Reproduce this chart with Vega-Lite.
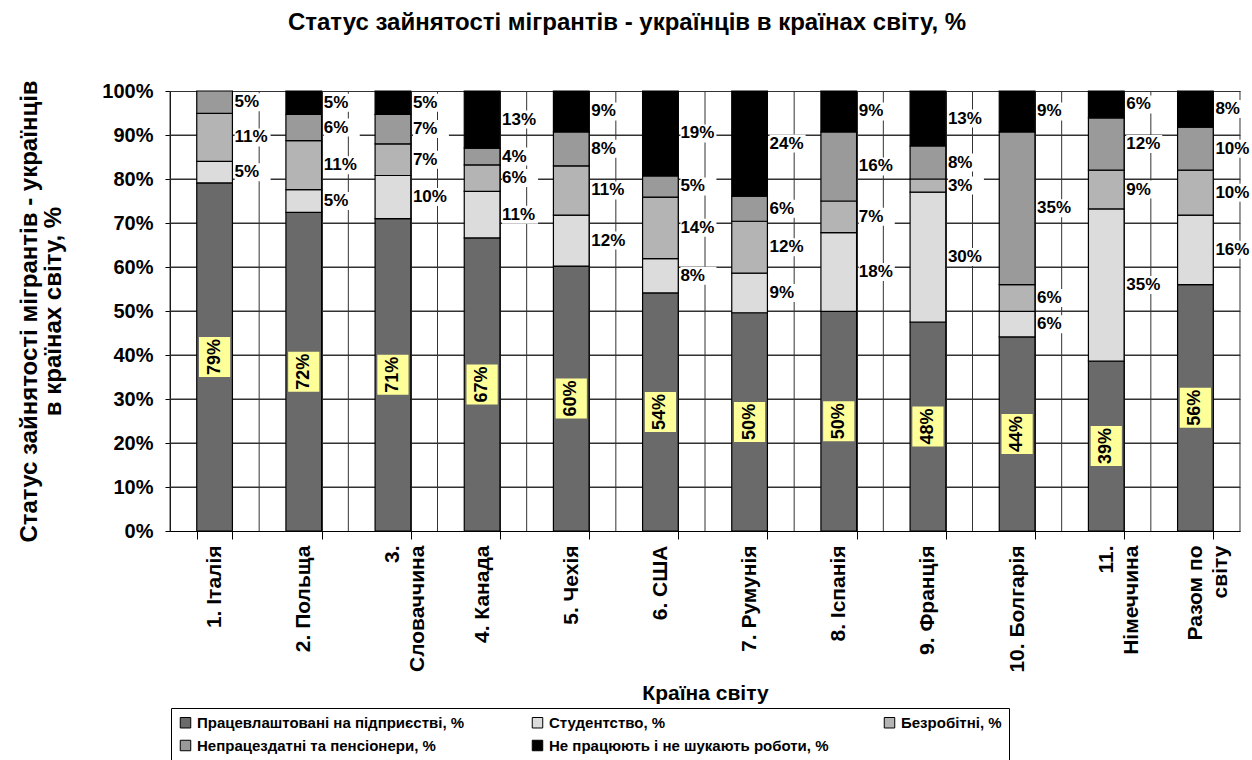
{
  "$schema": "https://vega.github.io/schema/vega-lite/v6.json",
  "autosize": {"type": "pad"},
  "width": 1070,
  "height": 440,
  "padding": {"left": 16, "top": 10, "right": 0, "bottom": 0},
  "background": "white",
  "config": {
    "font": "Liberation Sans",
    "view": {"stroke": null}
  },
  "title": {
    "text": "Статус зайнятості мігрантів - українців в країнах світу, %",
    "fontSize": 24,
    "fontWeight": "bold",
    "color": "black",
    "anchor": "middle",
    "dx": -78,
    "offset": 45
  },
  "data": {
    "values": [
      {"country": "1. Італія", "status": "Працевлаштовані на підприєстві, %", "value": 79.1},
      {"country": "1. Італія", "status": "Студентство, %", "value": 4.9},
      {"country": "1. Італія", "status": "Безробітні, %", "value": 10.9},
      {"country": "1. Італія", "status": "Непрацездатні та пенсіонери, %", "value": 5.1},
      {"country": "2. Польща", "status": "Працевлаштовані на підприєстві, %", "value": 72.4},
      {"country": "2. Польща", "status": "Студентство, %", "value": 5.2},
      {"country": "2. Польща", "status": "Безробітні, %", "value": 11.1},
      {"country": "2. Польща", "status": "Непрацездатні та пенсіонери, %", "value": 6.0},
      {"country": "2. Польща", "status": "Не працюють і не шукають роботи, %", "value": 5.3},
      {"country": "3. Словаччина", "status": "Працевлаштовані на підприєстві, %", "value": 71.0},
      {"country": "3. Словаччина", "status": "Студентство, %", "value": 9.8},
      {"country": "3. Словаччина", "status": "Безробітні, %", "value": 7.2},
      {"country": "3. Словаччина", "status": "Непрацездатні та пенсіонери, %", "value": 6.7},
      {"country": "3. Словаччина", "status": "Не працюють і не шукають роботи, %", "value": 5.3},
      {"country": "4. Канада", "status": "Працевлаштовані на підприєстві, %", "value": 66.6},
      {"country": "4. Канада", "status": "Студентство, %", "value": 10.6},
      {"country": "4. Канада", "status": "Безробітні, %", "value": 6.0},
      {"country": "4. Канада", "status": "Непрацездатні та пенсіонери, %", "value": 3.8},
      {"country": "4. Канада", "status": "Не працюють і не шукають роботи, %", "value": 13.0},
      {"country": "5. Чехія", "status": "Працевлаштовані на підприєстві, %", "value": 60.2},
      {"country": "5. Чехія", "status": "Студентство, %", "value": 11.6},
      {"country": "5. Чехія", "status": "Безробітні, %", "value": 11.2},
      {"country": "5. Чехія", "status": "Непрацездатні та пенсіонери, %", "value": 7.7},
      {"country": "5. Чехія", "status": "Не працюють і не шукають роботи, %", "value": 9.3},
      {"country": "6. США", "status": "Працевлаштовані на підприєстві, %", "value": 54.1},
      {"country": "6. США", "status": "Студентство, %", "value": 7.8},
      {"country": "6. США", "status": "Безробітні, %", "value": 14.0},
      {"country": "6. США", "status": "Непрацездатні та пенсіонери, %", "value": 4.8},
      {"country": "6. США", "status": "Не працюють і не шукають роботи, %", "value": 19.3},
      {"country": "7. Румунія", "status": "Працевлаштовані на підприєстві, %", "value": 49.6},
      {"country": "7. Румунія", "status": "Студентство, %", "value": 9.0},
      {"country": "7. Румунія", "status": "Безробітні, %", "value": 11.8},
      {"country": "7. Румунія", "status": "Непрацездатні та пенсіонери, %", "value": 5.7},
      {"country": "7. Румунія", "status": "Не працюють і не шукають роботи, %", "value": 23.9},
      {"country": "8. Іспанія", "status": "Працевлаштовані на підприєстві, %", "value": 49.9},
      {"country": "8. Іспанія", "status": "Студентство, %", "value": 17.9},
      {"country": "8. Іспанія", "status": "Безробітні, %", "value": 7.2},
      {"country": "8. Іспанія", "status": "Непрацездатні та пенсіонери, %", "value": 15.7},
      {"country": "8. Іспанія", "status": "Не працюють і не шукають роботи, %", "value": 9.3},
      {"country": "9. Франція", "status": "Працевлаштовані на підприєстві, %", "value": 47.5},
      {"country": "9. Франція", "status": "Студентство, %", "value": 29.5},
      {"country": "9. Франція", "status": "Безробітні, %", "value": 3.0},
      {"country": "9. Франція", "status": "Непрацездатні та пенсіонери, %", "value": 7.5},
      {"country": "9. Франція", "status": "Не працюють і не шукають роботи, %", "value": 12.5},
      {"country": "10. Болгарія", "status": "Працевлаштовані на підприєстві, %", "value": 44.1},
      {"country": "10. Болгарія", "status": "Студентство, %", "value": 5.8},
      {"country": "10. Болгарія", "status": "Безробітні, %", "value": 6.1},
      {"country": "10. Болгарія", "status": "Непрацездатні та пенсіонери, %", "value": 34.7},
      {"country": "10. Болгарія", "status": "Не працюють і не шукають роботи, %", "value": 9.3},
      {"country": "11. Німеччина", "status": "Працевлаштовані на підприєстві, %", "value": 38.6},
      {"country": "11. Німеччина", "status": "Студентство, %", "value": 34.6},
      {"country": "11. Німеччина", "status": "Безробітні, %", "value": 8.8},
      {"country": "11. Німеччина", "status": "Непрацездатні та пенсіонери, %", "value": 11.9},
      {"country": "11. Німеччина", "status": "Не працюють і не шукають роботи, %", "value": 6.1},
      {"country": "Разом по світу", "status": "Працевлаштовані на підприєстві, %", "value": 56.0},
      {"country": "Разом по світу", "status": "Студентство, %", "value": 15.8},
      {"country": "Разом по світу", "status": "Безробітні, %", "value": 10.2},
      {"country": "Разом по світу", "status": "Непрацездатні та пенсіонери, %", "value": 9.8},
      {"country": "Разом по світу", "status": "Не працюють і не шукають роботи, %", "value": 8.2}
    ]
  },
  "transform": [
    {"calculate": "indexof(['Працевлаштовані на підприєстві, %','Студентство, %','Безробітні, %','Непрацездатні та пенсіонери, %','Не працюють і не шукають роботи, %'], datum.status)", "as": "ord"},
    {"stack": "value", "groupby": ["country"], "sort": [{"field": "ord", "order": "ascending"}], "as": ["v0", "v1"]},
    {"calculate": "(datum.v0 + datum.v1) / 2", "as": "mid"},
    {"calculate": "format(datum.value, '.0f') + '%'", "as": "lbl"}
  ],
  "resolve": {"axis": {"x": "independent", "y": "independent"}},
  "layer": [
    {
      "transform": [{"filter": "datum.ord == 0"}],
      "mark": {"type": "rule", "color": "#333", "strokeWidth": 1, "xOffset": -44.583},
      "encoding": {
        "x": {"field": "country", "type": "nominal", "sort": null, "axis": null}
      }
    },
    {
      "transform": [{"filter": "datum.ord == 0 && datum.country == 'Разом по світу'"}],
      "mark": {"type": "rule", "color": "#333", "strokeWidth": 1, "xOffset": 44.583},
      "encoding": {
        "x": {"field": "country", "type": "nominal", "sort": null, "axis": null}
      }
    },
    {"transform": [{"filter": "datum.ord == 0"}], "mark": {"type": "tick", "color": "#333", "thickness": 1, "size": 89.2, "opacity": 1}, "encoding": {"x": {"field": "country", "type": "nominal", "sort": null, "axis": null}, "y": {"datum": 10, "type": "quantitative", "axis": null}}},
    {"transform": [{"filter": "datum.ord == 0"}], "mark": {"type": "tick", "color": "#333", "thickness": 1, "size": 89.2, "opacity": 1}, "encoding": {"x": {"field": "country", "type": "nominal", "sort": null, "axis": null}, "y": {"datum": 20, "type": "quantitative", "axis": null}}},
    {"transform": [{"filter": "datum.ord == 0"}], "mark": {"type": "tick", "color": "#333", "thickness": 1, "size": 89.2, "opacity": 1}, "encoding": {"x": {"field": "country", "type": "nominal", "sort": null, "axis": null}, "y": {"datum": 30, "type": "quantitative", "axis": null}}},
    {"transform": [{"filter": "datum.ord == 0"}], "mark": {"type": "tick", "color": "#333", "thickness": 1, "size": 89.2, "opacity": 1}, "encoding": {"x": {"field": "country", "type": "nominal", "sort": null, "axis": null}, "y": {"datum": 40, "type": "quantitative", "axis": null}}},
    {"transform": [{"filter": "datum.ord == 0"}], "mark": {"type": "tick", "color": "#333", "thickness": 1, "size": 89.2, "opacity": 1}, "encoding": {"x": {"field": "country", "type": "nominal", "sort": null, "axis": null}, "y": {"datum": 50, "type": "quantitative", "axis": null}}},
    {"transform": [{"filter": "datum.ord == 0"}], "mark": {"type": "tick", "color": "#333", "thickness": 1, "size": 89.2, "opacity": 1}, "encoding": {"x": {"field": "country", "type": "nominal", "sort": null, "axis": null}, "y": {"datum": 60, "type": "quantitative", "axis": null}}},
    {"transform": [{"filter": "datum.ord == 0"}], "mark": {"type": "tick", "color": "#333", "thickness": 1, "size": 89.2, "opacity": 1}, "encoding": {"x": {"field": "country", "type": "nominal", "sort": null, "axis": null}, "y": {"datum": 70, "type": "quantitative", "axis": null}}},
    {"transform": [{"filter": "datum.ord == 0"}], "mark": {"type": "tick", "color": "#333", "thickness": 1, "size": 89.2, "opacity": 1}, "encoding": {"x": {"field": "country", "type": "nominal", "sort": null, "axis": null}, "y": {"datum": 80, "type": "quantitative", "axis": null}}},
    {"transform": [{"filter": "datum.ord == 0"}], "mark": {"type": "tick", "color": "#333", "thickness": 1, "size": 89.2, "opacity": 1}, "encoding": {"x": {"field": "country", "type": "nominal", "sort": null, "axis": null}, "y": {"datum": 90, "type": "quantitative", "axis": null}}},
    {
      "mark": {"type": "bar", "stroke": "black", "strokeWidth": 1.2},
      "encoding": {
        "x": {
          "field": "country",
          "type": "nominal",
          "sort": null,
          "scale": {"paddingInner": 0.6, "paddingOuter": 0.3},
          "title": "Країна світу",
          "axis": {
            "titleFontSize": 21,
            "titleFontWeight": "bold",
            "titleColor": "black",
            "titleBaseline": "middle",
            "titleY": 162,
            "labelAngle": 270,
            "labelAlign": "right",
            "labelBaseline": "middle",
            "labelFontSize": 21,
            "labelFontWeight": "bold",
            "labelColor": "black",
            "labelPadding": 6,
            "labelLineHeight": 25,
            "labelExpr": "datum.label == '3. Словаччина' ? ['3.', 'Словаччина'] : datum.label == '11. Німеччина' ? ['11.', 'Німеччина'] : datum.label == 'Разом по світу' ? ['Разом по', 'світу'] : datum.label",
            "tickBand": "extent",
            "tickSize": 8,
            "tickColor": "black",
            "domainColor": "black",
            "grid": true,
            "gridColor": "#333"
          }
        },
        "y": {
          "field": "v0",
          "type": "quantitative",
          "scale": {"domain": [0, 100]},
          "title": ["Статус зайнятості мігрантів - українців", "в країнах світу, %"],
          "axis": {
            "titleFontSize": 24,
            "titleFontWeight": "bold",
            "titleColor": "black",
            "titleLineHeight": 24,
            "titleX": -141,
            "titleY": 220,
            "titleAlign": "center",
            "titleBaseline": "middle",
            "titleAngle": 270,
            "values": [0, 10, 20, 30, 40, 50, 60, 70, 80, 90, 100],
            "labelExpr": "datum.value + '%'",
            "labelFontSize": 20,
            "labelFontWeight": "bold",
            "labelColor": "black",
            "labelPadding": 12,
            "tickSize": 5,
            "tickColor": "black",
            "domainColor": "black",
            "grid": true,
            "gridColor": "#333"
          }
        },
        "y2": {"field": "v1"},
        "fill": {
          "field": "status",
          "type": "nominal",
          "scale": {
            "domain": ["Працевлаштовані на підприєстві, %", "Студентство, %", "Безробітні, %", "Непрацездатні та пенсіонери, %", "Не працюють і не шукають роботи, %"],
            "range": ["#6a6a6a", "#dcdcdc", "#b4b4b4", "#9a9a9a", "#000000"]
          },
          "legend": {
            "title": null,
            "orient": "none",
            "legendX": 1,
            "legendY": 617,
            "columns": 3,
            "direction": "horizontal",
            "gridAlign": "all",
            "columnPadding": 53,
            "rowPadding": 7,
            "padding": 7,
            "strokeColor": "black",
            "fillColor": "white",
            "labelFontSize": 15,
            "labelFontWeight": "bold",
            "labelColor": "black",
            "labelLimit": 400,
            "labelOffset": 4,
            "symbolType": "square",
            "symbolSize": 110,
            "symbolStrokeColor": "black",
            "symbolStrokeWidth": 1
          }
        }
      }
    },
    {
      "transform": [{"filter": "datum.ord > 0"}],
      "mark": {"type": "point", "shape": "M-1,-0.5H1V0.5H-1Z", "size": 1296, "filled": true, "fill": "white", "opacity": 1, "strokeWidth": 0, "xOffset": 38},
      "encoding": {
        "x": {"field": "country", "type": "nominal", "sort": null, "axis": null},
        "y": {"field": "mid", "type": "quantitative", "axis": null}
      }
    },
    {
      "transform": [{"filter": "datum.ord > 0"}],
      "mark": {"type": "text", "align": "left", "baseline": "middle", "dx": 20, "fontSize": 17, "fontWeight": "bold", "color": "black"},
      "encoding": {
        "x": {"field": "country", "type": "nominal", "sort": null, "axis": null},
        "y": {"field": "mid", "type": "quantitative", "axis": null},
        "text": {"field": "lbl"}
      }
    },
    {
      "transform": [{"filter": "datum.ord == 0"}],
      "mark": {"type": "point", "shape": "M-0.78,-1H0.78V1H-0.78Z", "size": 1600, "filled": true, "fill": "#ffff99", "opacity": 1, "strokeWidth": 0},
      "encoding": {
        "x": {"field": "country", "type": "nominal", "sort": null, "axis": null},
        "y": {"field": "mid", "type": "quantitative", "axis": null}
      }
    },
    {
      "transform": [{"filter": "datum.ord == 0"}],
      "mark": {"type": "text", "angle": 270, "align": "center", "baseline": "middle", "fontSize": 18, "fontWeight": "bold", "color": "black"},
      "encoding": {
        "x": {"field": "country", "type": "nominal", "sort": null, "axis": null},
        "y": {"field": "mid", "type": "quantitative", "axis": null},
        "text": {"field": "lbl"}
      }
    }
  ]
}
